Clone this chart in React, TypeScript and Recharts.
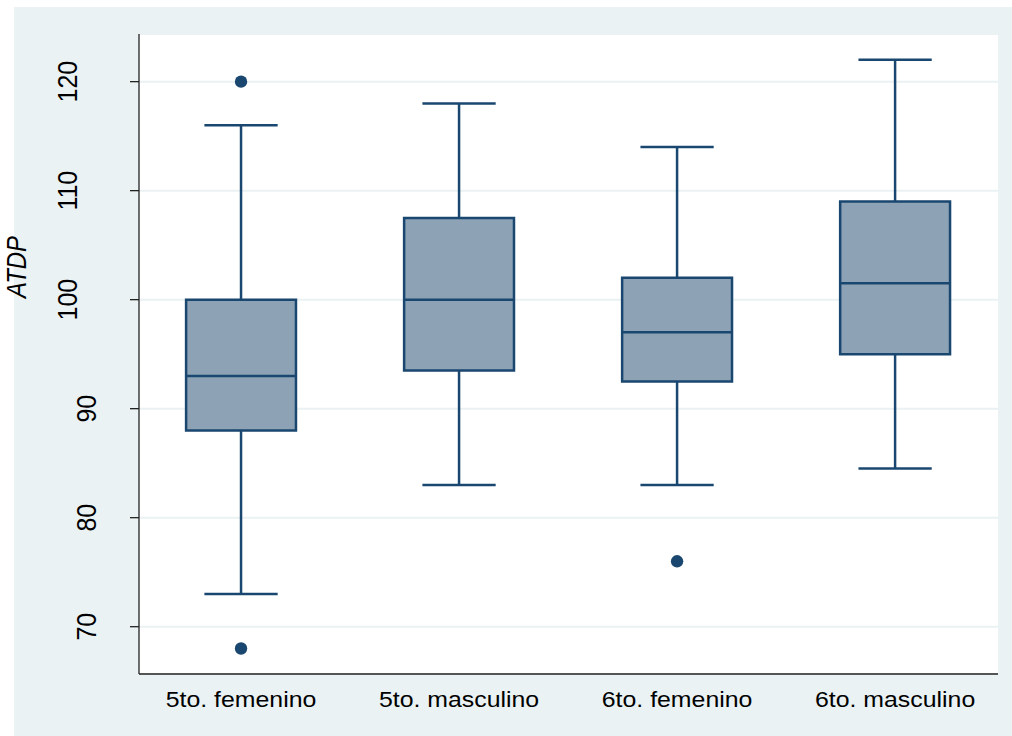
import React from 'react';
import {
  ComposedChart,
  XAxis,
  YAxis,
  CartesianGrid,
  ReferenceArea,
  ReferenceLine,
  Scatter,
} from 'recharts';

const categories = ['5to. femenino', '5to. masculino', '6to. femenino', '6to. masculino'];
const whiskerLow = [73, 83, 83, 84.5];
const q1 = [88, 93.5, 92.5, 95];
const median = [93, 100, 97, 101.5];
const q3 = [100, 107.5, 102, 109];
const whiskerHigh = [116, 118, 114, 122];
const outlierGroup = [1, 1, 3];
const outlierValue = [120, 68, 76];
const yTicks = [70, 80, 90, 100, 110, 120];
const yTitle = 'ATDP';

const NAVY = '#1A476F';
const FILL = '#8EA2B6';
const BG = '#EAF2F3';
const BOX_HALF = 0.252;
const CAP_HALF = 0.168;
const SX = 1.13;

const outliers = outlierGroup.map((g, i) => ({ x: g, y: outlierValue[i] }));

const YTick = (props: any) => {
  const { x, y, payload } = props;
  const label = String(payload.value);
  const bx = label.length >= 3 ? x - 51 : x - 32;
  return (
    <text
      transform={`translate(${bx},${y}) scale(${SX},1) rotate(-90)`}
      textAnchor="middle"
      fontSize={25}
      fontFamily="'Liberation Sans', Arial, sans-serif"
      fill="#000"
    >
      {label}
    </text>
  );
};

const XTick = (props: any) => {
  const { x, y, payload } = props;
  const label = categories[Math.round(payload.value) - 1] ?? '';
  return (
    <text
      transform={`translate(${x},${y + 33}) scale(${SX},1)`}
      textAnchor="middle"
      fontSize={22}
      fontFamily="'Liberation Sans', Arial, sans-serif"
      fill="#000"
    >
      {label}
    </text>
  );
};

const Dot = (props: any) => <circle cx={props.cx} cy={props.cy} r={6.2} fill={NAVY} />;

export default function App() {
  return (
    <div style={{ position: 'absolute', left: 0, top: 0, width: 1012, height: 736, background: '#fff' }}>
      <div style={{ position: 'absolute', left: 14, top: 7, width: 998, height: 729, background: BG }} />
      <div style={{ position: 'absolute', left: 0, top: 0 }}>
        <ComposedChart
          width={1012}
          height={736}
          margin={{ top: 34, right: 14, bottom: 22, left: 79 }}
        >
          <CartesianGrid
            vertical={false}
            stroke={BG}
            strokeWidth={2}
            fill="#ffffff"
            fillOpacity={1}
          />
          <XAxis
            type="number"
            dataKey="x"
            domain={[0.532, 4.472]}
            allowDataOverflow
            ticks={[1, 2, 3, 4]}
            tick={<XTick />}
            tickLine={false}
            tickSize={0}
            tickMargin={0}
            height={40}
            axisLine={{ stroke: '#222', strokeWidth: 1.3 }}
          />
          <YAxis
            type="number"
            dataKey="y"
            domain={[65.66, 124.37]}
            allowDataOverflow
            ticks={yTicks}
            tick={<YTick />}
            tickSize={9}
            tickMargin={2}
            width={60}
            tickLine={{ stroke: '#222', strokeWidth: 1.3 }}
            axisLine={{ stroke: '#222', strokeWidth: 1.3 }}
          />
          {categories.map((c, i) => (
            <ReferenceLine
              key={`wl-${c}`}
              segment={[
                { x: i + 1, y: whiskerLow[i] },
                { x: i + 1, y: q1[i] },
              ]}
              stroke={NAVY}
              strokeWidth={2.5}
            />
          ))}
          {categories.map((c, i) => (
            <ReferenceLine
              key={`wh-${c}`}
              segment={[
                { x: i + 1, y: q3[i] },
                { x: i + 1, y: whiskerHigh[i] },
              ]}
              stroke={NAVY}
              strokeWidth={2.5}
            />
          ))}
          {categories.map((c, i) => (
            <ReferenceLine
              key={`cl-${c}`}
              segment={[
                { x: i + 1 - CAP_HALF, y: whiskerLow[i] },
                { x: i + 1 + CAP_HALF, y: whiskerLow[i] },
              ]}
              stroke={NAVY}
              strokeWidth={2.5}
            />
          ))}
          {categories.map((c, i) => (
            <ReferenceLine
              key={`ch-${c}`}
              segment={[
                { x: i + 1 - CAP_HALF, y: whiskerHigh[i] },
                { x: i + 1 + CAP_HALF, y: whiskerHigh[i] },
              ]}
              stroke={NAVY}
              strokeWidth={2.5}
            />
          ))}
          {categories.map((c, i) => (
            <ReferenceArea
              key={`box-${c}`}
              x1={i + 1 - BOX_HALF}
              x2={i + 1 + BOX_HALF}
              y1={q1[i]}
              y2={q3[i]}
              fill={FILL}
              fillOpacity={1}
              stroke={NAVY}
              strokeWidth={2.5}
            />
          ))}
          {categories.map((c, i) => (
            <ReferenceLine
              key={`med-${c}`}
              segment={[
                { x: i + 1 - BOX_HALF, y: median[i] },
                { x: i + 1 + BOX_HALF, y: median[i] },
              ]}
              stroke={NAVY}
              strokeWidth={2.5}
            />
          ))}
          <Scatter data={outliers} dataKey="y" shape={<Dot />} isAnimationActive={false} />
        </ComposedChart>
      </div>
      <svg
        width={40}
        height={120}
        style={{ position: 'absolute', left: 0, top: 207 }}
      >
        <text
          transform={`translate(26,60) scale(${SX},1) rotate(-90)`}
          textAnchor="middle"
          fontSize={24}
          fontStyle="italic"
          fontFamily="'Liberation Sans', Arial, sans-serif"
          fill="#000"
        >
          {yTitle}
        </text>
      </svg>
    </div>
  );
}
